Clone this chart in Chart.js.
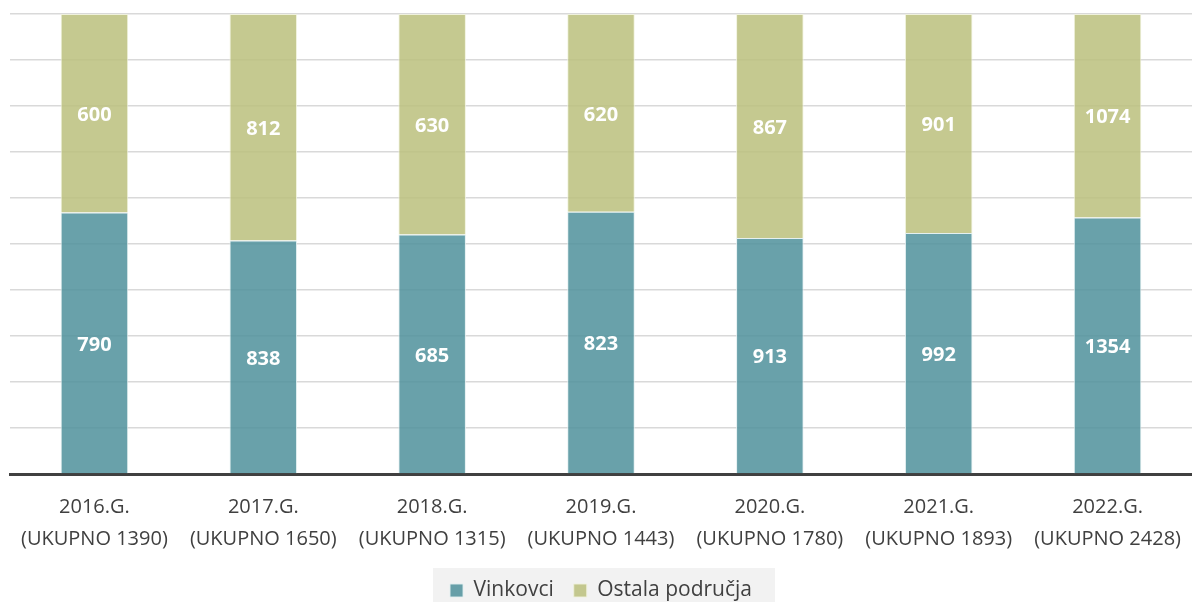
<!DOCTYPE html>
<html>
<head>
<meta charset="utf-8">
<script src="https://cdn.jsdelivr.net/npm/chart.js@4"></script>
<style>
  html, body { margin: 0; padding: 0; background: #fff; }
  #wrap { width: 1192px; height: 602px; }
</style>
</head>
<body>
<div id="wrap"><canvas id="chart"></canvas></div>
<script>
const years = ['2016.G.', '2017.G.', '2018.G.', '2019.G.', '2020.G.', '2021.G.', '2022.G.'];
const vinkovci = [790, 838, 685, 823, 913, 992, 1354];
const ostala = [600, 812, 630, 620, 867, 901, 1074];
const totals = [1390, 1650, 1315, 1443, 1780, 1893, 2428];

const labels = years.map((y, i) => [y, '(UKUPNO ' + totals[i] + ')']);
const pct = (arr) => arr.map((v, i) => v / (vinkovci[i] + ostala[i]) * 100);

// white value labels in the middle of each segment
const valueLabels = {
    id: 'valueLabels',
    afterDatasetsDraw(chart) {
        const ctx = chart.ctx;
        ctx.save();
        ctx.fillStyle = '#ffffff';
        ctx.font = 'bold 20px "Open Sans", sans-serif';
        ctx.textAlign = 'center';
        ctx.textBaseline = 'middle';
        chart.data.datasets.forEach((ds, di) => {
            chart.getDatasetMeta(di).data.forEach((bar, i) => {
                const mid = (bar.y + bar.base) / 2;
                ctx.fillText(ds.raw[i], bar.x, mid + 2);
            });
        });
        ctx.restore();
    }
};

// grey band behind the legend, and a shorter legend box
const legendBg = {
    id: 'legendBg',
    beforeInit(chart) {
        const fit = chart.legend.fit;
        chart.legend.fit = function () {
            fit.call(this);
            this.height = 42;
        };
    },
    beforeDraw(chart) {
        const ctx = chart.ctx;
        ctx.save();
        ctx.fillStyle = '#f2f2f2';
        ctx.fillRect(433, 568, 342, chart.height - 568);
        ctx.restore();
    }
};

new Chart(document.getElementById('chart'), {
    type: 'bar',
    data: {
        labels,
        datasets: [
            {
                label: 'Vinkovci',
                data: pct(vinkovci),
                raw: vinkovci,
                backgroundColor: 'rgba(79,144,155,0.85)',
                borderColor: 'rgba(225,238,240,0.9)',
                borderWidth: 1,
            },
            {
                label: 'Ostala područja',
                data: pct(ostala),
                raw: ostala,
                backgroundColor: 'rgba(187,192,124,0.85)',
                borderColor: 'rgba(240,242,220,0.9)',
                borderWidth: 1,
            },
        ],
    },
    options: {
        responsive: true,
        maintainAspectRatio: false,
        animation: false,
        datasets: { bar: { categoryPercentage: 1, barPercentage: 0.4 } },
        layout: { padding: { top: 14, left: 10, right: 0, bottom: 0 } },
        plugins: {
            legend: {
                position: 'bottom',
                labels: {
                    boxWidth: 13,
                    boxHeight: 13,
                    padding: 20,
                    color: '#404040',
                    font: { family: '"Open Sans", sans-serif', size: 21, lineHeight: 1 },
                },
            },
            tooltip: { enabled: false },
        },
        scales: {
            x: {
                stacked: true,
                grid: { display: false },
                border: { color: '#404040', width: 3 },
                afterFit(scale) { scale.height = 86; },
                ticks: {
                    color: '#404040',
                    font: { family: '"Open Sans", sans-serif', size: 20, lineHeight: 1.6 },
                    padding: 9,
                    maxRotation: 0,
                },
            },
            y: {
                stacked: true,
                min: 0,
                max: 100,
                ticks: { display: false, stepSize: 10 },
                grid: { color: '#d9d9d9', lineWidth: 1.5, drawTicks: false },
                border: { display: false },
            },
        },
    },
    plugins: [valueLabels, legendBg],
});
</script>
</body>
</html>
